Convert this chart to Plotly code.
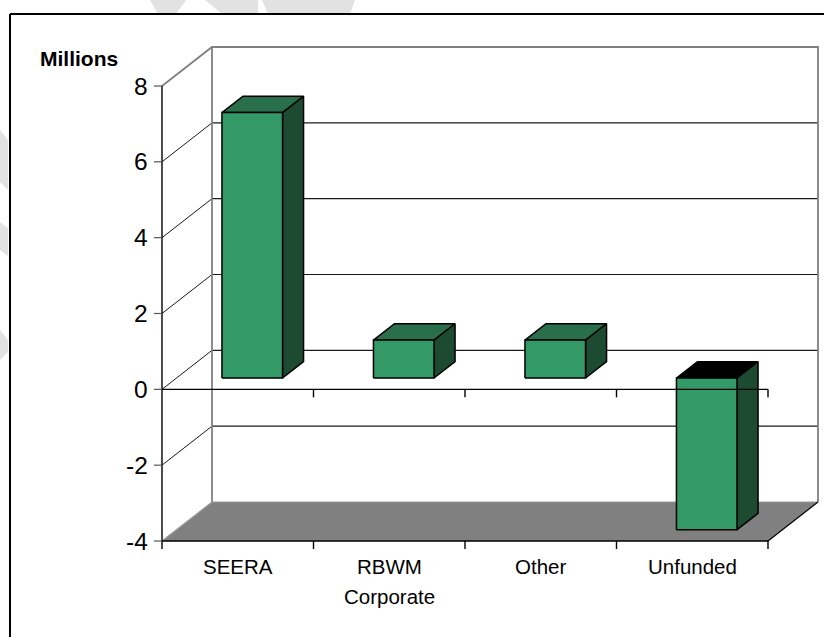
import plotly.graph_objects as go

# ---- data ----
categories = ["SEERA", "RBWM<br>Corporate", "Other", "Unfunded"]
values = [7.0, 1.0, 1.0, -4.0]          # millions
y_ticks = [-4, -2, 0, 2, 4, 6, 8]
y_tick_labels = ["-4", "-2", "0", "2", "4", "6", "8"]
y_title = "Millions"

# ---- styling / geometry ----
W, H = 824, 637
X0PX, PXX = 162, 151.5          # px of category origin, px per category
YM4PX, PXY = 541, 455 / 12.0    # px of y=-4, px per unit
DX = 50 / PXX                   # oblique depth offset (category units)
DY = 39 / PXY                   # oblique depth offset (value units)
YMIN, YMAX = -4, 8
BAR_W = 0.4
F0, F1 = 0.29, 0.71             # bar depth span (fraction of depth)
FRONT, TOP, SIDE = "#339966", "#2A6F4B", "#1C4B32"
FONT = "Arial, Liberation Sans, sans-serif"

xr = [-X0PX / PXX, (W - X0PX) / PXX]
yr = [YMIN - (H - YM4PX) / PXY, YMIN + YM4PX / PXY]

fig = go.Figure()


def poly(xs, ys, fill, line_color="black", lw=1.5):
    fig.add_trace(go.Scatter(x=xs + [xs[0]], y=ys + [ys[0]], mode="lines", fill="toself",
                             fillcolor=fill, line=dict(color=line_color, width=lw),
                             hoverinfo="skip", showlegend=False))


def seg(xs, ys, color="black", lw=1.0):
    fig.add_trace(go.Scatter(x=xs, y=ys, mode="lines", line=dict(color=color, width=lw),
                             hoverinfo="skip", showlegend=False, connectgaps=False))


n = len(categories)
# floor
poly([0, n, n + DX, DX], [YMIN, YMIN, YMIN + DY, YMIN + DY], "#808080", "rgba(0,0,0,0)", 0)
# back wall gridlines and side-wall diagonals
for t in y_ticks[1:-1]:
    seg([DX, n + DX], [t + DY, t + DY], "#1a1a1a", 1.2)
    seg([0, DX], [t, t + DY], "#1a1a1a", 1.0)
# wall outline (gray)
seg([0, DX, n + DX, n + DX], [YMAX, YMAX + DY, YMAX + DY, YMIN + DY], "#808080", 1.8)
seg([DX, DX], [YMIN + DY, YMAX + DY], "#808080", 1.8)
seg([0, DX, n + DX], [YMIN, YMIN + DY, YMIN + DY], "#9a9a9a", 1.2)
seg([n, n + DX], [YMIN, YMIN + DY], "black", 1.2)

# bars
for i, v in enumerate(values):
    xa = i + 0.5 - BAR_W / 2
    xb = i + 0.5 + BAR_W / 2
    yt, yb = max(0, v), min(0, v)
    ox0, oy0 = F0 * DX, F0 * DY
    ox1, oy1 = F1 * DX, F1 * DY
    top_col = TOP if v >= 0 else "black"
    poly([xa + ox0, xb + ox0, xb + ox1, xa + ox1], [yt + oy0, yt + oy0, yt + oy1, yt + oy1], top_col)
    poly([xb + ox0, xb + ox1, xb + ox1, xb + ox0], [yb + oy0, yb + oy1, yt + oy1, yt + oy0], SIDE)
    poly([xa + ox0, xb + ox0, xb + ox0, xa + ox0], [yb + oy0, yb + oy0, yt + oy0, yt + oy0], FRONT)

# front axes
tick_dy = 8 / PXY
tick_dx = 8 / PXX
for base in (0, YMIN):
    xs, ys = [0, n], [base, base]
    for k in range(1, n + 1):
        xs += [None, k, k]
        ys += [None, base, base - tick_dy]
    seg(xs, ys, "black", 1.4)
seg([0, 0], [YMAX, YMIN - tick_dy], "black", 1.4)
xs, ys = [], []
for t in y_ticks:
    xs += [-tick_dx, 0, None]
    ys += [t, t, None]
seg(xs, ys, "#555555", 1.2)

ann = []
for t, lab in zip(y_ticks, y_tick_labels):
    ann.append(dict(x=0, y=t, xref="x", yref="y", text=lab, showarrow=False, xanchor="right",
                    yanchor="middle", xshift=-12, font=dict(family=FONT, size=24.5, color="black")))
for i, c in enumerate(categories):
    parts = c.split("<br>")
    for j, p in enumerate(parts):
        ann.append(dict(x=i + 0.5, y=YMIN, xref="x", yref="y", text=p, showarrow=False,
                        xanchor="center", yanchor="middle", yshift=-25 - 30 * j,
                        font=dict(family=FONT, size=20.5, color="black")))
ann.append(dict(x=38 / W, y=1 - 58.5 / H, xref="paper", yref="paper", text="<b>" + y_title + "</b>",
                showarrow=False, xanchor="left", yanchor="middle",
                font=dict(family=FONT, size=21, color="black")))

# decorative frame and faint background watermark
shapes = []
wm = [
    [(150, 0), (186, 0), (176, 14), (158, 14)],
    [(205, 0), (258, 0), (258, 14), (222, 14)],
    [(262, 0), (355, 0), (350, 14), (268, 14)],
    [(0, 130), (8, 140), (8, 190), (0, 182)],
    [(0, 222), (8, 228), (8, 256), (0, 250)],
    [(0, 330), (8, 340), (8, 352), (0, 360)],
]
for pts in wm:
    path = "M " + " L ".join(f"{px / W:.5f},{1 - py / H:.5f}" for px, py in pts) + " Z"
    shapes.append(dict(type="path", xref="paper", yref="paper", path=path,
                       fillcolor="#e2e2e2", line=dict(width=0), layer="below"))
shapes.append(dict(type="line", xref="paper", yref="paper", x0=10 / W, x1=10 / W, y0=-0.05,
                   y1=1 - 14 / H, line=dict(color="black", width=2)))
shapes.append(dict(type="line", xref="paper", yref="paper", x0=10 / W, x1=1.05, y0=1 - 14 / H,
                   y1=1 - 14 / H, line=dict(color="black", width=2)))

fig.update_layout(
    width=W, height=H, autosize=False, margin=dict(l=0, r=0, t=0, b=0),
    paper_bgcolor="white", plot_bgcolor="white",
    xaxis=dict(range=xr, visible=False, fixedrange=True),
    yaxis=dict(range=yr, visible=False, fixedrange=True),
    annotations=ann, shapes=shapes, showlegend=False,
)
fig.write_html("out.html")
